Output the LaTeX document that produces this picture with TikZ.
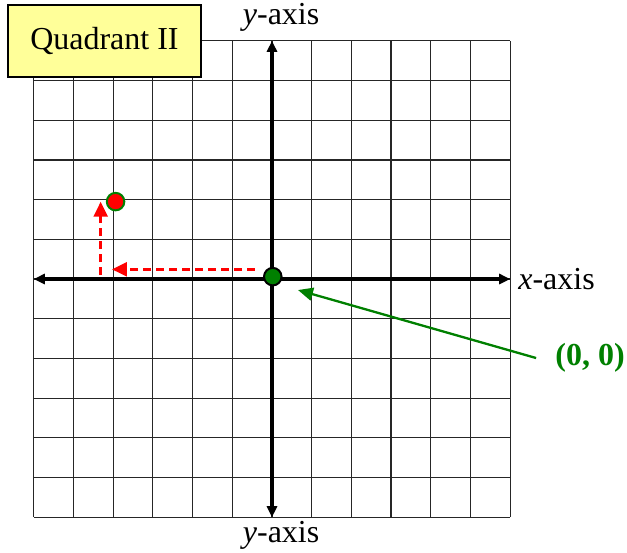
\documentclass[tikz,border=0pt]{standalone}
\usepackage{fontspec}
\setmainfont{Liberation Serif}
\usetikzlibrary{arrows.meta}
\definecolor{quadyellow}{RGB}{255,255,153}
\definecolor{ptgreen}{RGB}{0,128,0}

\begin{document}
\begin{tikzpicture}[x=39.7pt,y=39.7pt,
  lbl/.style={font=\fontsize{32}{36}\selectfont,inner sep=0pt},
  axis/.style={line width=3.3pt,{Triangle[length=11pt,width=10pt]}-{Triangle[length=11pt,width=10pt]}},
  redarr/.style={red,line width=2.4pt,dash pattern=on 8pt off 5pt,-{Triangle[length=15pt,width=14pt]}},
  greenarr/.style={ptgreen,line width=2.3pt,-{Triangle[length=15pt,width=13pt]}},
  dot/.style={circle,minimum size=17.5pt,inner sep=0pt,line width=2pt}]
  \useasboundingbox (-6.851,-6.877) rectangle (8.942,7.028);
  % cuadricula
  \foreach \i in {-6,...,6}{
    \draw[line width=1.2pt,black!85] (\i,-6) -- (\i,6);
    \draw[line width=1.2pt,black!85] (-6,\i) -- (6,\i);
  }
  % ejes
  \coordinate (xl) at (-6,0); \coordinate (xr) at (6,0);
  \coordinate (yb) at (0,-6); \coordinate (yt) at (0,6);
  \draw[axis] (xl) -- (xr);
  \draw[axis] (yb) -- (yt);
  \node[lbl,anchor=west] (xlab) at (6.2,0) {\textit{x}-axis};
  \node[lbl] (ytop) at (0.23,6.6) {\textit{y}-axis};
  \node[lbl] (ybot) at (0.23,-6.45) {\textit{y}-axis};
  % cuadrante
  \node[lbl,draw,fill=quadyellow,line width=1.8pt,minimum width=193pt,minimum height=72pt]
    (quad) at (-4.22,6.0) {Quadrant II};
  % puntos y flechas
  \coordinate (h1) at (-0.43,0.244); \coordinate (h2) at (-4.03,0.244);
  \coordinate (v1) at (-4.315,0.1); \coordinate (v2) at (-4.315,1.947);
  \draw[redarr] (h1) -- (h2);
  \draw[redarr] (v1) -- (v2);
  \node[dot,draw=ptgreen,fill=red] (pt) at (-3.94,1.95) {};
  \node[dot,draw=black,fill=ptgreen] (o) at (0.02,0.06) {};
  \node[lbl,text=ptgreen,font=\fontsize{32}{36}\selectfont\bfseries] (zlab) at (8.01,-1.99) {(0, 0)};
  \coordinate (tip) at (0.655,-0.277);
  \draw[greenarr] ([xshift=-19pt]zlab.west) -- (tip);
\end{tikzpicture}
\end{document}
